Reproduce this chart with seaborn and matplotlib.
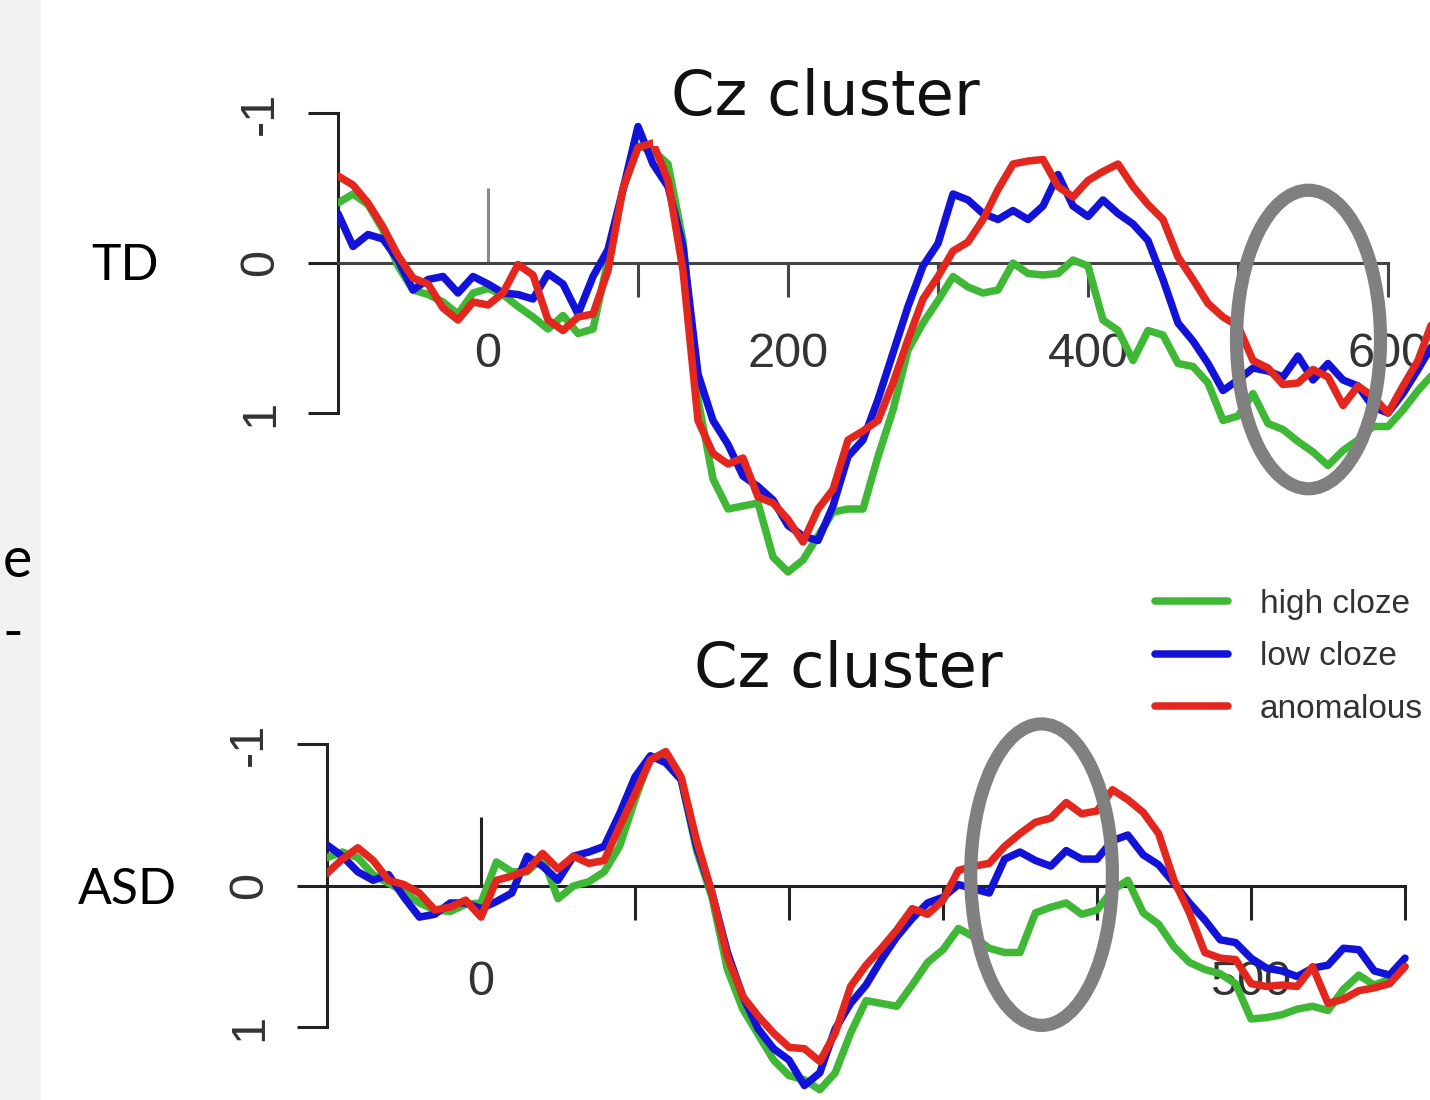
import numpy as np
import pandas as pd
import matplotlib
matplotlib.use("Agg")
import matplotlib.pyplot as plt
import seaborn as sns
from matplotlib.patches import Ellipse, Rectangle

# ---------------- data ----------------
conditions = ["high cloze", "low cloze", "anomalous"]
colors = ["#3fb836", "#1212d8", "#e3271e"]

time_td = list(range(-100, 640, 10))
td_high = [-0.40, -0.46, -0.39, -0.22, 0.02, 0.18, 0.21, 0.26, 0.34, 0.20,
           0.17, 0.21, 0.29, 0.36, 0.44, 0.35, 0.47, 0.44, -0.02, -0.49,
           -0.78, -0.75, -0.66, -0.15, 0.91, 1.44, 1.64, 1.62, 1.60, 1.96,
           2.06, 1.98, 1.82, 1.66, 1.64, 1.64, 1.29, 0.98, 0.58, 0.40,
           0.25, 0.09, 0.16, 0.20, 0.18, 0.00, 0.07, 0.08, 0.07, -0.02,
           0.02, 0.38, 0.45, 0.65, 0.45, 0.48, 0.67, 0.69, 0.80, 1.05,
           1.02, 0.87, 1.07, 1.11, 1.19, 1.26, 1.35, 1.25, 1.18, 1.09,
           1.09, 0.98, 0.85, 0.74]
td_low = [-0.33, -0.11, -0.19, -0.16, -0.02, 0.18, 0.11, 0.09, 0.20, 0.09,
          0.14, 0.20, 0.21, 0.24, 0.07, 0.14, 0.34, 0.09, -0.09, -0.49,
          -0.91, -0.66, -0.51, -0.11, 0.74, 1.05, 1.21, 1.42, 1.49, 1.58,
          1.75, 1.82, 1.85, 1.62, 1.29, 1.18, 0.91, 0.60, 0.29, 0.02,
          -0.13, -0.46, -0.42, -0.33, -0.29, -0.35, -0.29, -0.38, -0.59, -0.38,
          -0.31, -0.42, -0.33, -0.26, -0.15, 0.11, 0.40, 0.52, 0.67, 0.85,
          0.78, 0.70, 0.72, 0.76, 0.62, 0.78, 0.67, 0.78, 0.82, 0.96,
          1.00, 0.87, 0.71, 0.54]
td_anom = [-0.58, -0.52, -0.40, -0.24, -0.05, 0.10, 0.14, 0.30, 0.38, 0.26,
           0.28, 0.20, 0.01, 0.08, 0.38, 0.45, 0.36, 0.34, 0.05, -0.50,
           -0.77, -0.80, -0.55, 0.05, 1.05, 1.27, 1.34, 1.30, 1.56, 1.60,
           1.71, 1.86, 1.64, 1.51, 1.18, 1.12, 1.05, 0.80, 0.51, 0.24,
           0.09, -0.08, -0.14, -0.29, -0.49, -0.66, -0.68, -0.69, -0.51, -0.44,
           -0.55, -0.61, -0.66, -0.51, -0.39, -0.29, -0.04, 0.11, 0.27, 0.36,
           0.42, 0.65, 0.70, 0.81, 0.80, 0.71, 0.76, 0.95, 0.82, 0.89,
           1.00, 0.82, 0.65, 0.38]

time_asd = list(range(-100, 610, 10))
asd_high = [-0.20, -0.24, -0.20, -0.08, -0.02, 0.04, 0.12, 0.17, 0.18, 0.13,
            0.12, -0.17, -0.10, -0.10, -0.20, 0.09, 0.00, -0.03, -0.10, -0.28,
            -0.61, -0.91, -0.92, -0.75, -0.25, 0.08, 0.59, 0.87, 1.05, 1.23,
            1.34, 1.37, 1.44, 1.32, 1.04, 0.81, 0.83, 0.85, 0.70, 0.54,
            0.45, 0.30, 0.36, 0.44, 0.47, 0.47, 0.19, 0.15, 0.12, 0.20,
            0.17, 0.03, -0.04, 0.19, 0.27, 0.43, 0.54, 0.59, 0.62, 0.69,
            0.94, 0.93, 0.91, 0.87, 0.85, 0.88, 0.73, 0.63, 0.70, 0.66,
            0.57]
asd_low = [-0.29, -0.21, -0.10, -0.04, -0.08, 0.08, 0.22, 0.20, 0.12, 0.12,
           0.16, 0.11, 0.05, -0.21, -0.14, -0.04, -0.21, -0.24, -0.28, -0.51,
           -0.77, -0.92, -0.87, -0.75, -0.28, 0.05, 0.47, 0.78, 1.01, 1.15,
           1.23, 1.41, 1.32, 1.01, 0.83, 0.70, 0.52, 0.36, 0.23, 0.12,
           0.08, -0.01, 0.02, 0.05, -0.19, -0.24, -0.18, -0.14, -0.25, -0.19,
           -0.19, -0.32, -0.36, -0.22, -0.15, -0.02, 0.12, 0.24, 0.38, 0.40,
           0.51, 0.58, 0.60, 0.64, 0.58, 0.56, 0.44, 0.45, 0.60, 0.63,
           0.51]
asd_anom = [-0.09, -0.19, -0.27, -0.18, -0.04, -0.01, 0.05, 0.17, 0.15, 0.10,
            0.22, -0.04, -0.07, -0.11, -0.23, -0.12, -0.21, -0.16, -0.18, -0.42,
            -0.65, -0.89, -0.95, -0.77, -0.32, 0.05, 0.50, 0.78, 0.92, 1.04,
            1.14, 1.15, 1.24, 1.04, 0.71, 0.56, 0.44, 0.31, 0.16, 0.20,
            0.10, -0.11, -0.14, -0.16, -0.28, -0.37, -0.45, -0.48, -0.59, -0.51,
            -0.53, -0.68, -0.61, -0.52, -0.37, -0.04, 0.19, 0.47, 0.51, 0.52,
            0.69, 0.71, 0.70, 0.71, 0.57, 0.83, 0.80, 0.74, 0.72, 0.69,
            0.57]

td_major = [0, 200, 400, 600]
td_minor = [100, 300, 500]
asd_major = [0, 500]
asd_minor = [100, 200, 300, 400, 600]
y_ticks = [-1, 0, 1]
y_labels = ["-1", "0", "1"]

# highlighted windows (ms start, ms end, amplitude centre, amplitude span)
td_window = (499, 595, 0.51, 1.99)
asd_window = (318, 410, -0.08, 2.13)


def frame(t, series):
    parts = []
    for cond, vals in zip(conditions, series):
        parts.append(pd.DataFrame({"time": t, "amp": vals, "condition": cond}))
    return pd.concat(parts, ignore_index=True)


df_td = frame(time_td, [td_high, td_low, td_anom])
df_asd = frame(time_asd, [asd_high, asd_low, asd_anom])

# ---------------- figure ----------------
sns.set_theme(style="white")
plt.rcParams["font.family"] = ["DejaVu Sans"]

W, H = 1430, 1100
LW = 5.4
fig = plt.figure(figsize=(W / 100, H / 100), dpi=100)
fig.patch.set_facecolor("white")


def axes_px(x0, x1, y0, y1):
    return fig.add_axes([x0 / W, 1 - y1 / H, (x1 - x0) / W, (y1 - y0) / H])


fig.patches.append(Rectangle((0, 0), 41 / W, 1, transform=fig.transFigure,
                             facecolor="#f2f2f2", edgecolor="none", zorder=0))

ax1 = axes_px(338, 1448, 68, 593)
ax2 = axes_px(327, 1466.6, 702, 1112.4)

palette = dict(zip(conditions, colors))

for ax, df, show_leg in [(ax1, df_td, False), (ax2, df_asd, True)]:
    sns.lineplot(data=df, x="time", y="amp", hue="condition", hue_order=conditions,
                 palette=palette, linewidth=LW, errorbar=None, ax=ax,
                 legend=show_leg, zorder=3)
    for ln in ax.lines:
        ln.set_linewidth(LW)
        ln.set_solid_joinstyle("round")
        ln.set_solid_capstyle("round")
    ax.set_facecolor("none")
    ax.set_xlim(-100, 640)
    ax.set_xlabel("")
    ax.set_ylabel("")
    for s in ["top", "right"]:
        ax.spines[s].set_visible(False)
    ax.spines["left"].set_bounds(-1, 1)
    ax.spines["bottom"].set_position(("data", 0))
    ax.spines["bottom"].set_bounds(-100, 600)
    ax.spines["left"].set_linewidth(2.2)
    ax.spines["bottom"].set_linewidth(2.2)
    ax.spines["left"].set_color("#222222")
    ax.set_yticks(y_ticks, y_labels)
    ax.tick_params(axis="y", direction="out", length=21.5, width=2.2,
                   color="#222222", labelsize=35, labelcolor="#333333",
                   labelrotation=90, pad=18, left=True)
    for lab in ax.get_yticklabels():
        lab.set_fontfamily("Liberation Sans")
        lab.set_va("center")

ax1.set_ylim(2.2, -1.3)
ax2.set_ylim(1.6, -1.3)

ax1.spines["bottom"].set_color("#444444")
ax2.spines["bottom"].set_color("#222222")

ax1.set_xticks(td_major, [str(v) for v in td_major])
ax1.set_xticks(td_minor, minor=True)
ax2.set_xticks(asd_major, [str(v) for v in asd_major])
ax2.set_xticks(asd_minor, minor=True)

for ax, pad, col in [(ax1, 25.5, "#444444"), (ax2, 28.5, "#222222")]:
    ax.tick_params(axis="x", which="both", direction="out", length=24.5, width=2.2,
                   color=col, labelsize=35, labelcolor="#333333", pad=pad, bottom=True)
    for lab in ax.get_xticklabels():
        lab.set_fontfamily("Liberation Sans")
    ax.xaxis.get_major_ticks()[0].tick1line.set_visible(False)

# lighter tick at 200 ms
ax1.xaxis.get_major_ticks()[1].tick1line.set_color("#888888")
ax2.xaxis.get_minor_ticks()[1].tick1line.set_color("#888888")

# stimulus-onset markers
ax1.vlines(0, -0.5, 0, color="#888888", linewidth=2.2, zorder=2)
ax2.vlines(0, -0.49, 0, color="#222222", linewidth=2.2, zorder=2)

# highlight ellipses
for ax, win in [(ax1, td_window), (ax2, asd_window)]:
    t0, t1, yc, span = win
    ax.add_patch(Ellipse(((t0 + t1) / 2, yc), t1 - t0, span, fill=False,
                         edgecolor="#808080", linewidth=9.5, zorder=5, clip_on=False))

# legend
sns.move_legend(ax2, loc="upper left", bbox_to_anchor=(1155 / W, 1 - 589 / H),
                bbox_transform=fig.transFigure, frameon=False, title=None,
                fontsize=24, handlelength=2.2, handletextpad=0.95,
                labelspacing=0.64, borderpad=0, borderaxespad=0)
leg = ax2.get_legend()
for txt in leg.get_texts():
    txt.set_color("#333333")
    txt.set_fontfamily("Liberation Sans")
for h in leg.legend_handles:
    h.set_linewidth(LW)

# titles
fig.text(825 / W, 1 - 98 / H, "Cz cluster", ha="center", va="center", fontsize=45,
         color="#111111", family="DejaVu Sans",
         bbox=dict(boxstyle="square,pad=0.28", facecolor="white", edgecolor="none"))
fig.text(848 / W, 1 - 670 / H, "Cz cluster", ha="center", va="center", fontsize=45,
         color="#111111", family="DejaVu Sans")

# group labels
fig.text(125 / W, 1 - 266 / H, "TD", ha="center", va="center", fontsize=36,
         family="Lato", color="black")
fig.text(127 / W, 1 - 890 / H, "ASD", ha="center", va="center", fontsize=36,
         family="Lato", color="black")

# slide text fragments at the left edge
fig.text(3 / W, 1 - 577 / H, "e", ha="left", va="baseline", fontsize=40,
         family="Lato", color="black")
fig.text(3 / W, 1 - 650 / H, "-", ha="left", va="baseline", fontsize=40,
         family="Lato", color="black")

fig.savefig("out.png", dpi=100, facecolor="white")
